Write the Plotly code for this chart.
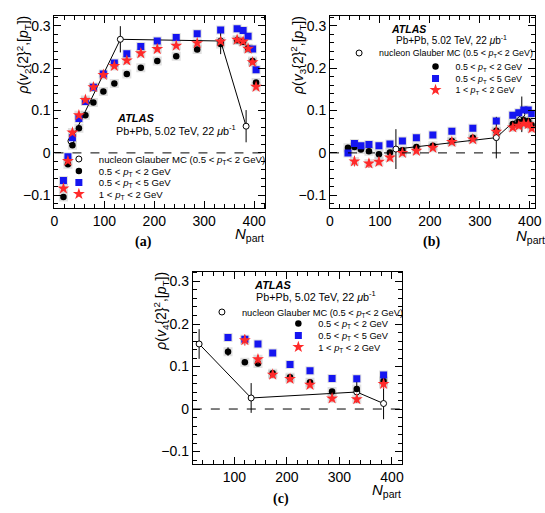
import plotly.graph_objects as go

W, H = 545, 513

# ---------------- data ----------------
# panel (a): rho(v2{2}^2,[pT])
npart_a = [18, 27, 36, 49, 62, 78, 98, 120, 145, 173, 206, 244, 286, 333, 366, 378, 388, 397, 404]
black_a = [-0.104, -0.027, 0.018, 0.058, 0.089, 0.119, 0.145, 0.164, 0.186, 0.201, 0.217, 0.228,
           0.244, 0.257, 0.266, 0.262, 0.247, 0.217, 0.166]
blue_a = [-0.065, -0.009, 0.036, 0.081, 0.121, 0.155, 0.186, 0.212, 0.234, 0.251, 0.264, 0.272,
          0.281, 0.290, 0.293, 0.289, 0.275, 0.245, 0.196]
red_a = [-0.084, -0.019, 0.048, 0.089, 0.125, 0.155, 0.184, 0.205, 0.218, 0.235, 0.245, 0.253,
         0.259, 0.263, 0.267, 0.263, 0.246, 0.214, 0.156]
glauber_n_a = [33, 132, 333, 384]
glauber_a = [0.028, 0.268, 0.264, 0.063]
glauber_err_a = [0.008, 0.031, 0.031, 0.038]

# panel (b): rho(v3{2}^2,[pT])
npart_b = [36, 49, 62, 78, 98, 120, 145, 173, 206, 244, 286, 333, 366, 378, 388, 397, 404]
black_b = [0.012, 0.014, 0.008, 0.004, -0.003, 0.001, 0.006, 0.014, 0.017, 0.028, 0.036, 0.052,
           0.068, 0.073, 0.077, 0.075, 0.066]
blue_b = [0.000, 0.022, 0.017, 0.020, 0.017, 0.021, 0.028, 0.036, 0.042, 0.051, 0.058, 0.075,
          0.089, 0.095, 0.101, 0.101, 0.093]
npart_red_b = [49, 78, 98, 120, 145, 173, 206, 244, 286, 333, 366, 378, 388, 397, 404]
red_b = [-0.020, -0.025, -0.021, -0.011, 0.000, 0.005, 0.012, 0.026, 0.032, 0.050, 0.060, 0.064,
         0.069, 0.068, 0.058]
red_err_b = [0.012, 0.010, 0.008, 0.007, 0.006, 0.006, 0.005, 0.005, 0.005, 0.005, 0.006, 0.006,
             0.006, 0.006, 0.007]
glauber_n_b = [132, 333, 384]
glauber_b = [0.009, 0.036, 0.091]
glauber_err_b = [0.047, 0.049, 0.042]

# panel (c): rho(v4{2}^2,[pT])
npart_c = [88, 120, 145, 173, 206, 244, 286, 333, 384]
blue_c = [0.168, 0.164, 0.153, 0.132, 0.105, 0.090, 0.072, 0.071, 0.080]
black_c = [0.135, 0.110, 0.107, 0.084, 0.075, 0.063, 0.041, 0.047, 0.066]
black_err_c = [0.010, 0.005, 0.005, 0.005, 0.004, 0.005, 0.005, 0.007, 0.008]
npart_red_c = [120, 145, 173, 206, 244, 286, 333, 384]
red_c = [0.162, 0.117, 0.081, 0.071, 0.057, 0.025, 0.023, 0.059]
red_err_c = [0.013, 0.010, 0.008, 0.007, 0.006, 0.008, 0.008, 0.012]
glauber_n_c = [33, 132, 333, 384]
glauber_c = [0.153, 0.026, 0.040, 0.013]
glauber_err_c = [0.035, 0.035, 0.025, 0.037]

y_ticks = [-0.1, 0, 0.1, 0.2, 0.3]
y_ticktext = ["\u22120.1", "0", "0.1", "0.2", "0.3"]

leg_glauber = "nucleon Glauber MC (0.5 < <i>p</i><sub>T</sub>< 2 GeV)"
leg_black = "0.5 < <i>p</i><sub>T</sub> < 2 GeV"
leg_blue = "0.5 < <i>p</i><sub>T</sub> < 5 GeV"
leg_red = "1 < <i>p</i><sub>T</sub> < 2 GeV"

FONT = "Liberation Sans, Arial, sans-serif"
BLUE = "#1515f0"
RED = "#ff2a2a"
SYS = "rgba(165,165,165,0.35)"


def px(x):
    return x / W


def py(y):
    return 1 - y / H


fig = go.Figure()

panels = [
    dict(ax="", npart=npart_a, black=black_a, blue=blue_a, red_n=npart_a, red=red_a, red_err=None,
         black_err=None, gn=glauber_n_a, g=glauber_a, ge=glauber_err_a,
         frame=(51.5, 266.7, 16, 208), xr=[0, 422.5]),
    dict(ax="2", npart=npart_b, black=black_b, blue=blue_b, red_n=npart_red_b, red=red_b,
         red_err=red_err_b, black_err=None, gn=glauber_n_b, g=glauber_b, ge=glauber_err_b,
         frame=(332.7, 541.7, 16, 208), xr=[0, 410]),
    dict(ax="3", npart=npart_c, black=black_c, blue=blue_c, red_n=npart_red_c, red=red_c,
         red_err=red_err_c, black_err=black_err_c, gn=glauber_n_c, g=glauber_c, ge=glauber_err_c,
         frame=(192.7, 406.7, 271.7, 464.3), xr=[21, 420]),
]

legend_pos = [
    # (legend-left px, y px) for glauber, black, blue, red
    [(56, 159), (56, 171), (56, 182.5), (56, 194)],
    [(342, 53), (420, 66.5), (420, 78.5), (420, 90)],
    [(202, 312), (280, 323.5), (280, 335.5), (280, 347)],
]
legend_font = [9.6, 8.9, 9.3]

legend_counter = [0]
layout_legends = {}


def new_legend(xp, yp, size):
    legend_counter[0] += 1
    n = legend_counter[0]
    name = "legend" if n == 1 else f"legend{n}"
    layout_legends[name] = dict(
        x=px(xp), y=py(yp), xanchor="left", yanchor="middle",
        bgcolor="rgba(0,0,0,0)", borderwidth=0, itemwidth=30,
        font=dict(family=FONT, size=size, color="black"),
        tracegroupgap=0, itemclick=False, itemdoubleclick=False,
    )
    return name


for i, p in enumerate(panels):
    xa = "x" + p["ax"]
    ya = "y" + p["ax"]
    lp = legend_pos[i]
    fs = legend_font[i]
    # systematic boxes
    for xs, ys in ((p["npart"], p["black"]), (p["npart"], p["blue"]), (p["red_n"], p["red"])):
        fig.add_trace(go.Scatter(x=xs, y=ys, mode="markers", xaxis=xa, yaxis=ya, showlegend=False,
                                 hoverinfo="skip",
                                 marker=dict(symbol="square", size=9, color=SYS, line=dict(width=0))))
    # Glauber line
    fig.add_trace(go.Scatter(x=p["gn"], y=p["g"], mode="lines", xaxis=xa, yaxis=ya, showlegend=False,
                             line=dict(color="black", width=1)))
    # Glauber points with errors
    fig.add_trace(go.Scatter(
        x=p["gn"], y=p["g"], mode="markers", xaxis=xa, yaxis=ya, name=leg_glauber,
        legend=new_legend(*lp[0], fs),
        error_y=dict(type="data", array=p["ge"], color="black", thickness=1, width=0),
        marker=dict(symbol="circle", size=6, color="white", line=dict(color="black", width=1))))
    # black
    eb = dict(type="data", array=p["black_err"], color="black", thickness=1, width=0) if p["black_err"] else None
    fig.add_trace(go.Scatter(
        x=p["npart"], y=p["black"], mode="markers", xaxis=xa, yaxis=ya, name=leg_black,
        legend=new_legend(*lp[1], fs), error_y=eb,
        marker=dict(symbol="circle", size=6.5, color="black")))
    # blue
    fig.add_trace(go.Scatter(
        x=p["npart"], y=p["blue"], mode="markers", xaxis=xa, yaxis=ya, name=leg_blue,
        legend=new_legend(*lp[2], fs),
        marker=dict(symbol="square", size=7, color=BLUE)))
    # red
    er = dict(type="data", array=p["red_err"], color=RED, thickness=1, width=0) if p["red_err"] else None
    fig.add_trace(go.Scatter(
        x=p["red_n"], y=p["red"], mode="markers", xaxis=xa, yaxis=ya, name=leg_red,
        legend=new_legend(*lp[3], fs), error_y=er,
        marker=dict(symbol="star", size=9, color=RED, line=dict(width=0))))

axis_common = dict(showline=True, linecolor="black", linewidth=1, mirror="allticks",
                   ticks="inside", ticklen=7, tickcolor="black", tickwidth=1,
                   showgrid=False, zeroline=False, ticklabeloverflow="allow",
                   tickfont=dict(family=FONT, size=14, color="black"),
                   minor=dict(ticks="inside", ticklen=4, tickcolor="black", tickwidth=1, showgrid=False))

layout = dict(width=W, height=H, margin=dict(l=0, r=0, t=0, b=0),
              paper_bgcolor="white", plot_bgcolor="white", showlegend=True)

shapes = []
annotations = []
ytitles = ["<i>ρ</i>(<i>v</i><sub>2</sub>{2}<sup>2</sup>,[<i>p</i><sub>T</sub>])",
           "<i>ρ</i>(<i>v</i><sub>3</sub>{2}<sup>2</sup>,[<i>p</i><sub>T</sub>])",
           "<i>ρ</i>(<i>v</i><sub>4</sub>{2}<sup>2</sup>,[<i>p</i><sub>T</sub>])"]
ytitle_pos = [(20, 55), (300, 55), (160, 311)]
npart_pos = [(267, 235), (554, 236.5), (407, 490)]
plabel = ["(a)", "(b)", "(c)"]
plabel_pos = [(142, 242), (436, 242), (283, 499)]
atlas_pos = [((113, 118), (112, 130)), ((393, 29), (398, 40)), ((253, 285), (255, 296))]
atlas_font = [11, 10.5, 11]
pbpb_font = [10.8, 10, 10.8]

for i, p in enumerate(panels):
    x0, x1, y0, y1 = p["frame"]
    xk = "xaxis" + p["ax"]
    yk = "yaxis" + p["ax"]
    layout[xk] = dict(axis_common, domain=[px(x0), px(x1)], range=p["xr"], anchor="y" + p["ax"],
                      dtick=100, tick0=0, minor=dict(axis_common["minor"], dtick=20, tick0=0))
    layout[yk] = dict(axis_common, domain=[py(y1), py(y0)], range=[-0.13, 0.323], anchor="x" + p["ax"],
                      tickvals=y_ticks, ticktext=y_ticktext,
                      minor=dict(axis_common["minor"], dtick=0.02, tick0=0))
    # dashed zero line
    shapes.append(dict(type="line", xref="x" + p["ax"] + " domain", yref="y" + p["ax"], x0=0, x1=1,
                       y0=0, y1=0, line=dict(color="black", width=1, dash="dash")))
    tx, ty = ytitle_pos[i]
    annotations.append(dict(text=ytitles[i], x=px(tx), y=py(ty), xref="paper", yref="paper",
                            textangle=-90, showarrow=False, xanchor="center", yanchor="middle",
                            font=dict(family=FONT, size=14, color="black")))
    nx, ny = npart_pos[i]
    annotations.append(dict(text="<i>N</i><sub>part</sub>", x=px(nx), y=py(ny), xref="paper",
                            yref="paper", showarrow=False, xanchor="right", yanchor="middle",
                            font=dict(family=FONT, size=15, color="black")))
    lx, ly = plabel_pos[i]
    annotations.append(dict(text="<b>" + plabel[i] + "</b>", x=px(lx), y=py(ly), xref="paper",
                            yref="paper", showarrow=False, xanchor="center", yanchor="middle",
                            font=dict(family="Liberation Serif, Times New Roman, serif", size=14,
                                      color="black")))
    (ax_, ay_), (bx_, by_) = atlas_pos[i]
    annotations.append(dict(text="<b><i>ATLAS</i></b>", x=px(ax_), y=py(ay_), xref="paper",
                            yref="paper", showarrow=False, xanchor="left", yanchor="middle",
                            font=dict(family=FONT, size=atlas_font[i], color="black")))
    annotations.append(dict(text="Pb+Pb, 5.02 TeV, 22 <i>μ</i>b<sup>-1</sup>", x=px(bx_), y=py(by_),
                            xref="paper", yref="paper", showarrow=False, xanchor="left",
                            yanchor="middle", font=dict(family=FONT, size=pbpb_font[i], color="black")))

layout["shapes"] = shapes
layout["annotations"] = annotations
layout.update(layout_legends)
fig.update_layout(**layout)

fig.write_html("out.html")
